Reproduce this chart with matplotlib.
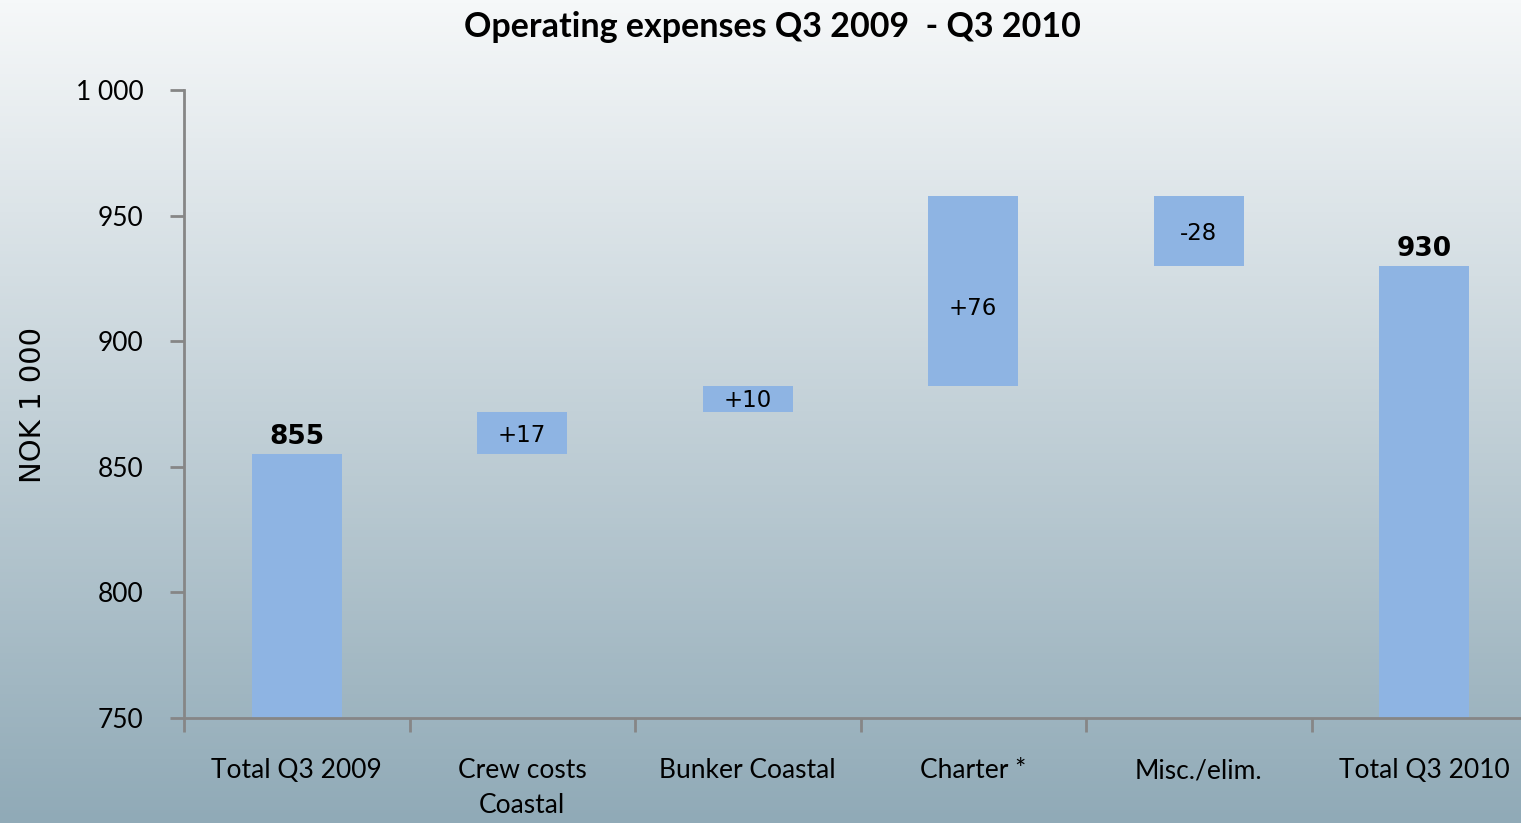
import matplotlib
matplotlib.use('Agg')
import matplotlib.pyplot as plt
import numpy as np

categories = ['Total Q3 2009', 'Crew costs\nCoastal', 'Bunker Coastal',
              'Charter *', 'Misc./elim.', 'Total Q3 2010']
changes = [855, 17, 10, 76, -28, 930]
is_total = [True, False, False, False, False, True]
labels = ['855', '+17', '+10', '+76', '-28', '930']
label_shift = [0, -1, -0.5, -7, -1, 0]   # small nudges as in the original slide
yticks = [750, 800, 850, 900, 950, 1000]
ytick_labels = ['750', '800', '850', '900', '950', '1 000']

bar_color = '#8EB4E3'
axis_color = '#868686'
lato = ['Lato', 'DejaVu Sans']

# waterfall bottoms / tops
bottoms, tops = [], []
running = 0
for v, t in zip(changes, is_total):
    if t:
        bottoms.append(0)
        tops.append(v)
        running = v
    else:
        lo, hi = sorted([running, running + v])
        bottoms.append(lo)
        tops.append(hi)
        running += v

fig = plt.figure(figsize=(15.21, 8.23), dpi=100)

# gradient background
bg = fig.add_axes([0, 0, 1, 1])
grad = np.linspace(0, 1, 256)[:, None]
top_c = np.array([0xF6, 0xF8, 0xF9]) / 255
bot_c = np.array([0x90, 0xAA, 0xB7]) / 255
img = top_c[None, None, :] * (1 - grad[:, :, None]) + bot_c[None, None, :] * grad[:, :, None]
bg.imshow(img, aspect='auto', extent=[0, 1, 0, 1])
bg.axis('off')

ax = fig.add_axes([184 / 1521, 105 / 823, 1353 / 1521, 628 / 823])
ax.patch.set_alpha(0)

x = np.arange(len(categories))
heights = [t - b for t, b in zip(tops, bottoms)]
ax.bar(x, heights, bottom=bottoms, width=0.4, color=bar_color, zorder=2)

ax.set_xlim(-0.5, 5.5)
ax.set_ylim(750, 1000)

for i in range(len(categories)):
    if is_total[i]:
        ax.text(x[i], tops[i] + 1.5, labels[i], ha='center', va='bottom',
                fontsize=19, fontweight='bold', family='DejaVu Sans')
    else:
        ax.text(x[i], (tops[i] + bottoms[i]) / 2 + label_shift[i], labels[i],
                ha='center', va='center', fontsize=16.5, family='DejaVu Sans')

for s in ['top', 'right']:
    ax.spines[s].set_visible(False)
for s in ['left', 'bottom']:
    ax.spines[s].set_color(axis_color)
    ax.spines[s].set_linewidth(2)

ax.set_yticks(yticks)
ax.set_yticklabels(ytick_labels, fontsize=19, family=lato)
ax.tick_params(axis='y', length=10, width=2, color=axis_color, pad=19)

ax.set_xticks(x)
ax.set_xticklabels(categories, fontsize=19, family=lato, linespacing=1.5)
ax.tick_params(axis='x', which='major', length=0, pad=29)
ax.set_xticks(np.arange(-0.5, 6, 1), minor=True)
ax.tick_params(axis='x', which='minor', length=10, width=2, color=axis_color)

fig.text(33 / 1521, 1 - 405 / 823, 'NOK 1 000', rotation=90, ha='center',
         va='center', fontsize=21, family='DejaVu Sans')
fig.text(772 / 1521, 1 - 27 / 823, 'Operating expenses Q3 2009  - Q3 2010',
         ha='center', va='center', fontsize=24.5, fontweight='bold', family=lato)

fig.savefig('out.png', dpi=100)
